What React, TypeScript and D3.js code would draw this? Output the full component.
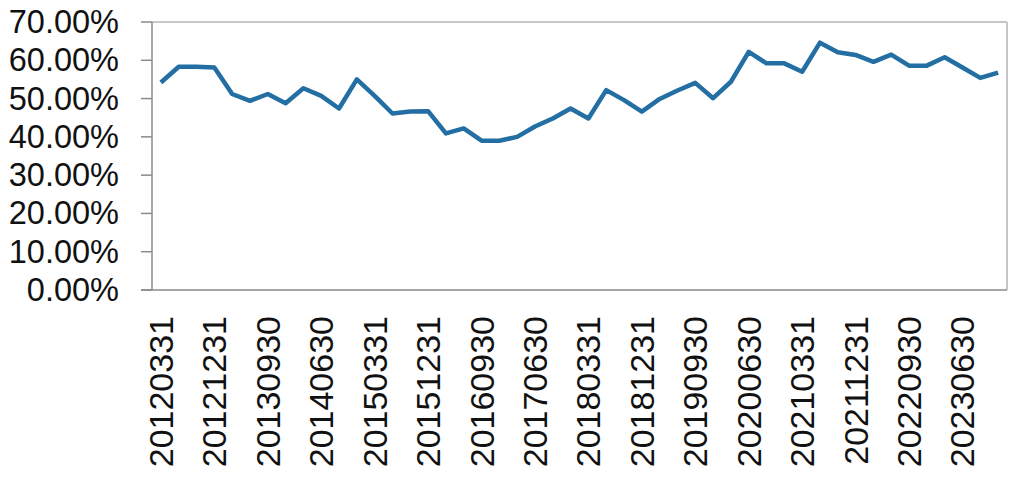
import React from "react";
import * as d3 from "d3";

const quarters: string[] = [];
const years = [2012,2013,2014,2015,2016,2017,2018,2019,2020,2021,2022,2023];
const qEnds = ["0331", "0630", "0930", "1231"];
years.forEach((y) => qEnds.forEach((q) => quarters.push(`${y}${q}`)));

const values = [
  54.2, 58.3, 58.3, 58.1, 51.2, 49.4, 51.2, 48.8, 52.7, 50.7, 47.4, 55.0,
  50.7, 46.1, 46.6, 46.7, 40.9, 42.2, 39.0, 39.0, 40.0, 42.7, 44.8, 47.4,
  44.8, 52.2, 49.6, 46.6, 49.9, 52.1, 54.1, 50.1, 54.4, 62.2, 59.2, 59.2,
  57.0, 64.6, 62.1, 61.4, 59.6, 61.5, 58.6, 58.6, 60.8, 58.1, 55.4, 56.8,
];

const yTicks = [0, 10, 20, 30, 40, 50, 60, 70];
const xLabelEvery = 3;

export default function App() {
  const W = 1017, H = 478;
  const left = 152, right = 1007, top = 22, bottom = 290;
  const x = d3.scaleBand<string>().domain(quarters).range([left, right]).padding(0);
  const y = d3.scaleLinear().domain([0, 70]).range([bottom, top]);
  const cx = (q: string) => (x(q) as number) + x.bandwidth() / 2;
  const line = d3
    .line<number>()
    .x((_, i) => cx(quarters[i]))
    .y((v) => y(v));
  const font = "'Liberation Sans', Arial, Helvetica, sans-serif";
  return (
    <svg width={W} height={H} style={{ position: "absolute", left: 0, top: 0, background: "#fff" }}>
      <rect x={0} y={0} width={W} height={H} fill="#fff" />
      {/* frame */}
      <line x1={left} x2={right} y1={top} y2={top} stroke="#b5b5b5" strokeWidth={1.5} />
      <line x1={right} x2={right} y1={top} y2={bottom} stroke="#b5b5b5" strokeWidth={1.5} />
      {/* y axis */}
      <line x1={left} x2={left} y1={top} y2={bottom} stroke="#8a8a8a" strokeWidth={1.5} />
      {yTicks.map((t) => (
        <g key={t}>
          <line x1={left - 11} x2={left} y1={y(t)} y2={y(t)} stroke="#8a8a8a" strokeWidth={1.5} />
          <text
            x={119}
            y={y(t)}
            textAnchor="end"
            dominantBaseline="central"
            fontFamily={font}
            fontSize={32.5}
            fill="#111"
          >
            {t.toFixed(2)}%
          </text>
        </g>
      ))}
      {/* x axis */}
      <line x1={left - 11} x2={right} y1={bottom} y2={bottom} stroke="#8a8a8a" strokeWidth={1.5} />
      {quarters.map((q, i) =>
        i % xLabelEvery === 0 ? (
          <text
            key={q}
            transform={`translate(${cx(q)},${316}) rotate(-90)`}
            textAnchor="end"
            dominantBaseline="central"
            fontFamily={font}
            fontSize={34}
            fill="#111"
          >
            {q}
          </text>
        ) : null
      )}
      <path d={line(values) || ""} fill="none" stroke="#236ea3" strokeWidth={4.5} strokeLinejoin="round" />
    </svg>
  );
}
